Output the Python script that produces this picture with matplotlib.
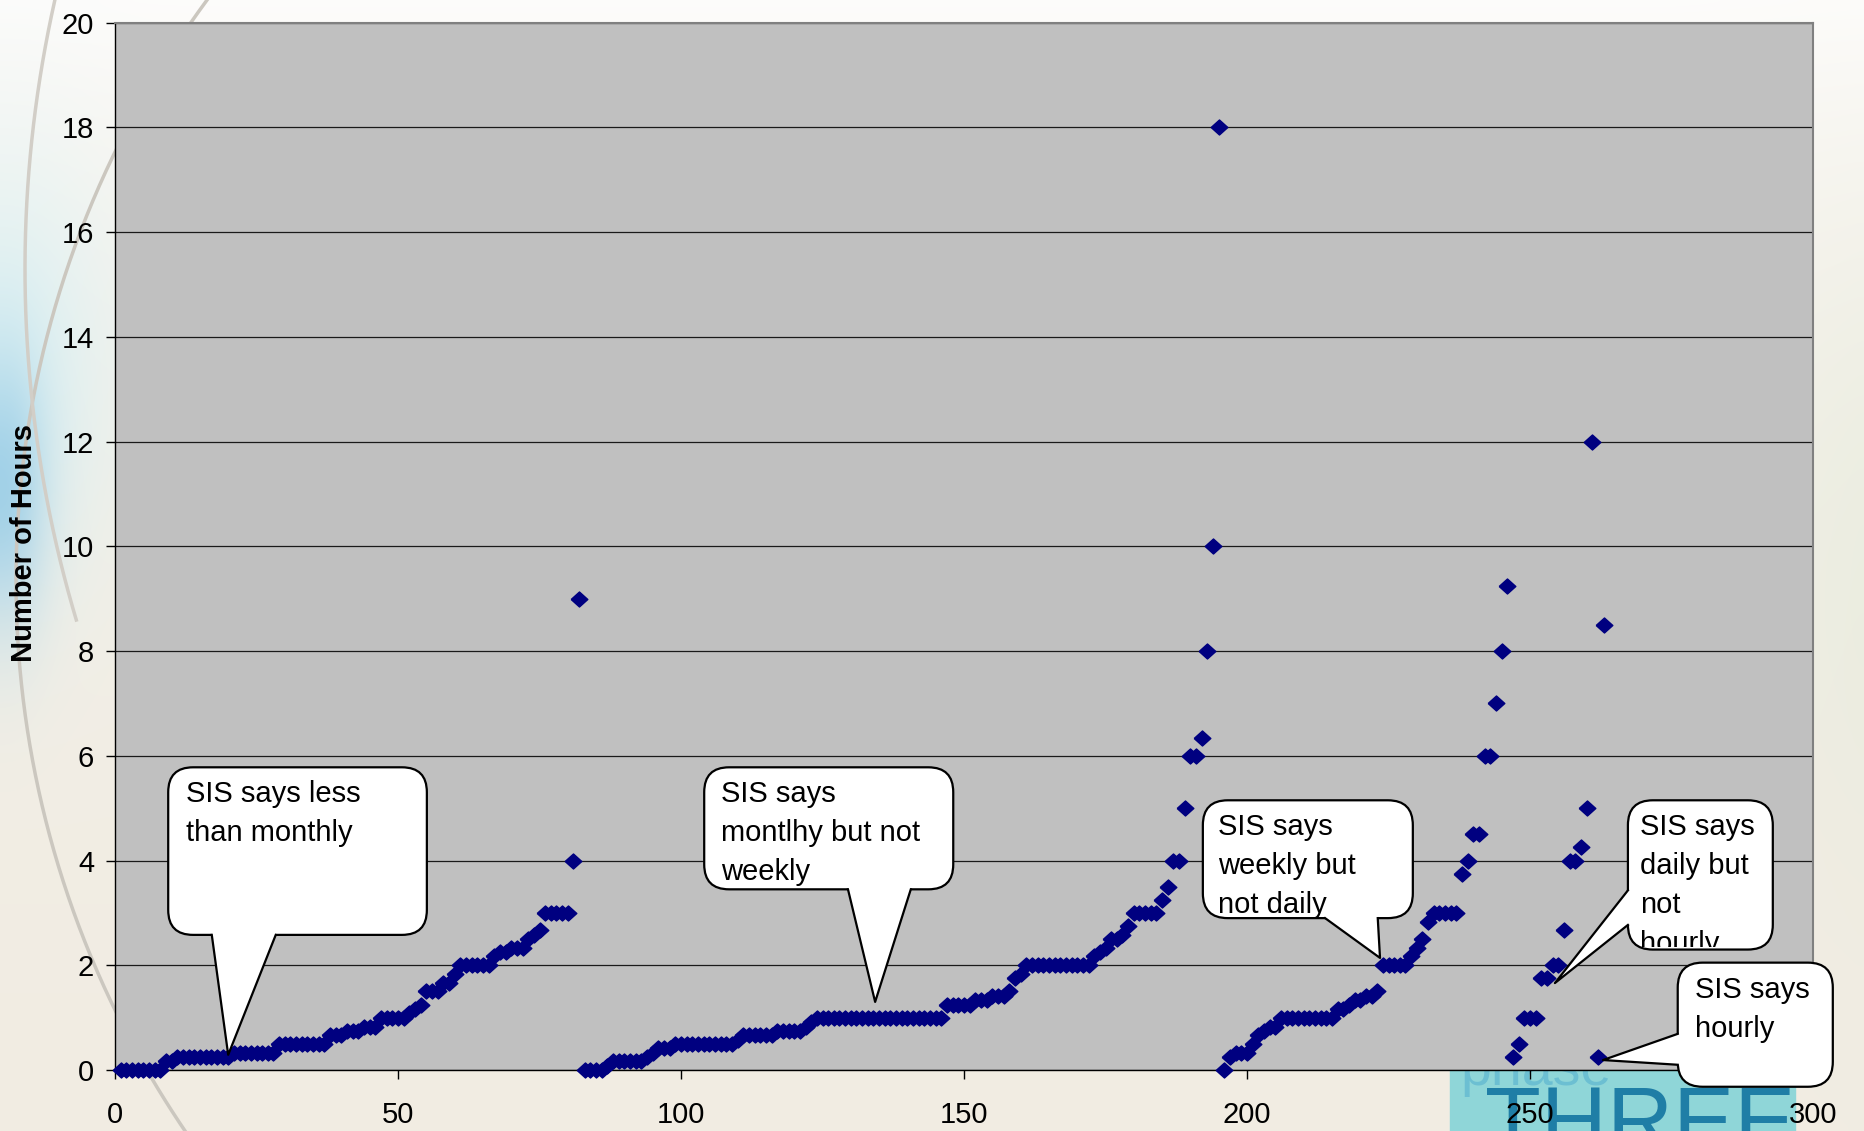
import numpy as np
import matplotlib
matplotlib.use("Agg")
import matplotlib.pyplot as plt
from matplotlib.patches import FancyBboxPatch, Polygon, Rectangle
from matplotlib.lines import Line2D
from matplotlib.transforms import Bbox, TransformedBbox

plt.rcParams['font.family'] = ['Liberation Sans', 'DejaVu Sans']

# hours per record, sorted inside each SIS frequency group
less_than_monthly = [
    0, 0, 0, 0, 0, 0, 0, 0, 0.17, 0.17,
    0.25, 0.25, 0.25, 0.25, 0.25, 0.25, 0.25, 0.25, 0.25, 0.25,
    0.33, 0.33, 0.33, 0.33, 0.33, 0.33, 0.33, 0.33,
    0.5, 0.5, 0.5, 0.5, 0.5, 0.5, 0.5, 0.5, 0.5,
    0.67, 0.67, 0.67, 0.75, 0.75, 0.75, 0.83, 0.83, 0.83,
    1.0, 1.0, 1.0, 1.0, 1.0, 1.08, 1.17, 1.25,
    1.5, 1.5, 1.5, 1.67, 1.67, 1.83,
    2.0, 2.0, 2.0, 2.0, 2.0, 2.0, 2.17, 2.25, 2.25,
    2.33, 2.33, 2.33, 2.5, 2.58, 2.67,
    3.0, 3.0, 3.0, 3.0, 3.0, 4.0, 9.0,
]
monthly_not_weekly = [
    0, 0, 0, 0, 0.08, 0.17, 0.17, 0.17, 0.17, 0.17, 0.17,
    0.25, 0.33, 0.42, 0.42, 0.42,
    0.5, 0.5, 0.5, 0.5, 0.5, 0.5, 0.5, 0.5, 0.5, 0.5, 0.5,
    0.58, 0.67, 0.67, 0.67, 0.67, 0.67, 0.67,
    0.75, 0.75, 0.75, 0.75, 0.75, 0.83, 0.92,
    1.0, 1.0, 1.0, 1.0, 1.0, 1.0, 1.0, 1.0, 1.0, 1.0, 1.0, 1.0,
    1.0, 1.0, 1.0, 1.0, 1.0, 1.0, 1.0, 1.0, 1.0, 1.0, 1.0,
    1.25, 1.25, 1.25, 1.25, 1.25, 1.33, 1.33, 1.33, 1.42, 1.42, 1.42,
    1.5, 1.75, 1.83,
    2.0, 2.0, 2.0, 2.0, 2.0, 2.0, 2.0, 2.0, 2.0, 2.0, 2.0, 2.0,
    2.17, 2.25, 2.33, 2.5, 2.5, 2.58, 2.75,
    3.0, 3.0, 3.0, 3.0, 3.0, 3.25, 3.5, 4.0, 4.0,
    5.0, 6.0, 6.0, 6.33, 8.0, 10.0, 18.0,
]
weekly_not_daily = [
    0, 0.25, 0.33, 0.33, 0.33, 0.5, 0.67, 0.75, 0.83, 0.83,
    1.0, 1.0, 1.0, 1.0, 1.0, 1.0, 1.0, 1.0, 1.0, 1.0,
    1.17, 1.17, 1.25, 1.33, 1.33, 1.42, 1.42, 1.5,
    2.0, 2.0, 2.0, 2.0, 2.0, 2.17, 2.33, 2.5, 2.83,
    3.0, 3.0, 3.0, 3.0, 3.0, 3.75, 4.0, 4.5, 4.5,
    6.0, 6.0, 7.0, 8.0, 9.25,
]
daily_not_hourly = [
    0.25, 0.5, 1.0, 1.0, 1.0, 1.75, 1.75, 2.0, 2.0, 2.67,
    4.0, 4.0, 4.25, 5.0, 12.0,
]
hourly = [0.25, 8.5]

hours = less_than_monthly + monthly_not_weekly + weekly_not_daily + daily_not_hourly + hourly
record = np.arange(1, len(hours) + 1)

# callouts: box (x0, y0, x1, y1), tail base points, tail tip, push into box, text inset, clip text
callouts = [
    ("SIS says less\nthan monthly", (9.4, 2.58, 55.1, 5.78),
     [(17.1, 2.58), (28.4, 2.58)], (20.0, 0.29), (0, 0.3), 3.1, False),
    ("SIS says\nmontlhy but not\nweekly", (104.1, 3.45, 148.1, 5.78),
     [(129.5, 3.45), (140.6, 3.45)], (134.3, 1.30), (0, 0.3), 3.0, False),
    ("SIS says\nweekly but\nnot daily", (192.2, 2.90, 229.3, 5.15),
     [(213.8, 2.90), (223.1, 2.90)], (223.5, 2.14), (0, 0.3), 2.7, False),
    ("SIS says\ndaily but\nnot\nhourly", (267.3, 2.30, 292.9, 5.15),
     [(267.3, 3.43), (267.3, 2.77)], (254.4, 1.66), (2.0, 0), 2.2, True),
    ("SIS says\nhourly", (276.1, -0.32, 303.5, 2.05),
     [(276.1, 0.69), (276.1, 0.10)], (262.9, 0.19), (2.0, 0), 3.1, False),
]

fig = plt.figure(figsize=(18.64, 11.31), dpi=100)

# slide background behind the chart (pixel coordinates, y down)
bg = fig.add_axes([0, 0, 1, 1], zorder=0)
H, W = 113, 186
yy, xx = np.mgrid[0:1:H * 1j, 0:1:W * 1j]
img = np.ones((H, W, 3)) * np.array([0.945, 0.925, 0.885])
w = (np.exp(-yy / 0.3) * 0.85)[..., None]
img = img * (1 - w) + w
w = (0.5 * np.exp(-(xx / 0.06) ** 2 - ((yy - 0.33) / 0.2) ** 2))[..., None]
img = img * (1 - w) + w * np.array([0.78, 0.94, 0.98])
w = (0.75 * np.exp(-(xx / 0.022) ** 2 - ((yy - 0.43) / 0.12) ** 2))[..., None]
img = img * (1 - w) + w * np.array([0.55, 0.78, 0.9])
w = (0.4 * np.clip((xx - 0.9) * 10, 0, 1) * np.exp(-((yy - 0.5) / 0.3) ** 2))[..., None]
img = img * (1 - w) + w * np.array([0.88, 0.92, 0.85])
bg.imshow(img, extent=[0, 1864, 1131, 0], aspect='auto', interpolation='bicubic')

# two thin swoosh curves on the left
ys = np.linspace(0, 1131, 300)
bg.plot(995 - np.sqrt(979 ** 2 - (ys - 581) ** 2), ys, color='#cbc7bf', lw=2.5)
ys = np.linspace(0, 620, 200)
bg.plot(1251 - np.sqrt(1226 ** 2 - (ys - 269) ** 2), ys, color='#d2cec7', lw=2.5)

bg.add_patch(Rectangle((1450, 1020), 345, 120, color='#8fd6d8'))
bg.text(1460, 1085, "phase", fontsize=40, color='#6cbfd2')
bg.text(1485, 1152, "THREE", fontsize=66, color='#1f7ea6')
bg.set_xlim(0, 1864)
bg.set_ylim(1131, 0)
bg.axis('off')

ax = fig.add_axes([115 / 1864, 1 - 1070 / 1131, 1698 / 1864, 1047.4 / 1131], zorder=1)
ax.set_facecolor('#c0c0c0')

diamond = [(-1, 0), (0, 0.9), (1, 0), (0, -0.9), (-1, 0)]
ax.plot(record, hours, linestyle='none', marker=diamond, ms=12,
        color='#000080', mec='#000080', zorder=3, clip_on=False)

ax.set_xlim(0, 300)
ax.set_ylim(0, 20)
ax.set_xticks(np.arange(0, 301, 50))
ax.set_yticks(np.arange(0, 21, 2))
ax.yaxis.grid(True, color='#1a1a1a', lw=0.9)
ax.set_axisbelow(True)
ax.tick_params(axis='both', labelsize=21, direction='out', length=6.5,
               width=1, colors='black')
ax.tick_params(axis='x', pad=16)
ax.tick_params(axis='y', pad=8.5)
for side in ('top', 'right'):
    ax.spines[side].set_color('#808080')
    ax.spines[side].set_linewidth(1.5)
for side in ('left', 'bottom'):
    ax.spines[side].set_color('black')
    ax.spines[side].set_linewidth(1)

ax.set_ylabel("Number of Hours", fontsize=21, fontweight='bold', va='center')
ax.yaxis.set_label_coords(-0.0536, 0.503)

# keep box corners round although x and y scales differ
aspect = (20 / 1047.4) / (300 / 1698)

for text, (x0, y0, x1, y1), base, tip, inward, inset, clip in callouts:
    box = FancyBboxPatch((x0, y0), x1 - x0, y1 - y0,
                         boxstyle="round,pad=0,rounding_size=4.4",
                         mutation_aspect=aspect, fc='white', ec='black',
                         lw=1.6, zorder=5, clip_on=False)
    ax.add_patch(box)
    b1, b2 = base
    inner = [(b2[0] + inward[0], b2[1] + inward[1]),
             (b1[0] + inward[0], b1[1] + inward[1])]
    ax.add_patch(Polygon([b1, tip, b2] + inner, closed=True, fc='white',
                         ec='none', zorder=6, clip_on=False))
    ax.add_line(Line2D([b1[0], tip[0], b2[0]], [b1[1], tip[1], b2[1]],
                       color='black', lw=1.6, zorder=7, clip_on=False))
    t = ax.text(x0 + inset, y1 - 0.25, text, fontsize=21, ha='left', va='top',
                linespacing=1.5, zorder=8, clip_on=clip)
    if clip:
        # text that runs past the box bottom is cut at the border
        t.set_clip_box(TransformedBbox(Bbox([[x0, y0 + 0.04], [x1, y1]]),
                                       ax.transData))

fig.savefig("out.png", dpi=100)
